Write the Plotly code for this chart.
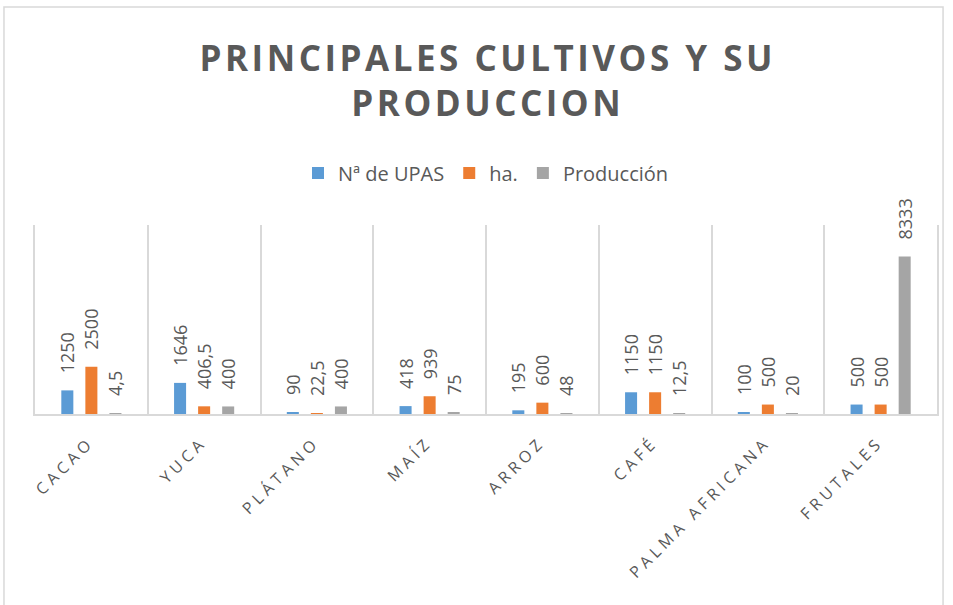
import plotly.graph_objects as go

categories = ["CACAO", "YUCA", "PLÁTANO", "MAÍZ", "ARROZ", "CAFÉ", "PALMA AFRICANA", "FRUTALES"]
upas = [1250, 1646, 90, 418, 195, 1150, 100, 500]
ha = [2500, 406.5, 22.5, 939, 600, 1150, 500, 500]
produccion = [4.5, 400, 400, 75, 48, 12.5, 20, 8333]
series_names = ["Nª de UPAS", "ha.", "Producción"]
colors = ["#5B9BD5", "#ED7D31", "#A5A5A5"]

TXT = "#595959"
FONT = "Open Sans"


def fmt(v):
    s = ("%g" % v).replace(".", ",")
    return "\u00a0\u00a0\u00a0" + s


def spaced(s, sep="\u2009"):
    return sep.join(list(s))


fig = go.Figure()
for name, vals, col in zip(series_names, [upas, ha, produccion], colors):
    fig.add_trace(go.Bar(
        x=categories, y=vals, name=name,
        marker=dict(color=col, line=dict(width=0)),
        text=[fmt(v) for v in vals],
        textposition="outside", textangle=-90,
        constraintext="none", cliponaxis=False,
        textfont=dict(family=FONT, size=18, color=TXT),
        hoverinfo="x+y+name",
    ))

fig.update_layout(
    width=953, height=605,
    margin=dict(l=35, r=16, t=225, b=191, autoexpand=False),
    paper_bgcolor="white", plot_bgcolor="white",
    barmode="group", bargap=0.36, bargroupgap=0.5,
    title=dict(
        text=spaced("PRINCIPALES CULTIVOS Y SU", "\u200a") + "<br>" + spaced("PRODUCCION", "\u200a"),
        x=0.5, xanchor="center", xref="paper",
        y=0.8828, yanchor="top", yref="container",
        font=dict(family=FONT, size=35, color=TXT, weight="bold"),
    ),
    legend=dict(
        orientation="h", x=0.5, xanchor="center", y=1.275, yanchor="middle",
        font=dict(family=FONT, size=20, color=TXT),
        itemwidth=30, traceorder="normal",
    ),
    xaxis=dict(
        type="category", tickson="boundaries", automargin=False,
        showgrid=True, gridcolor="#D9D9D9", gridwidth=1.5,
        showline=True, linecolor="#D9D9D9", linewidth=1.5,
        ticks="", tickangle=-45,
        tickmode="array", tickvals=categories,
        ticktext=[spaced(c, "\u2009\u200a") for c in categories],
        tickfont=dict(family=FONT, size=16, color=TXT),
        ticklabelstandoff=14, ticklabelshift=-5,
    ),
    yaxis=dict(
        range=[0, 10000], fixedrange=True, automargin=False,
        showgrid=False, zeroline=False, showticklabels=False, ticks="",
        showline=True, mirror=True, linecolor="#D9D9D9", linewidth=1.5,
    ),
    shapes=[dict(
        type="rect", xref="paper", yref="paper",
        x0=-0.0344, x1=1.0067, y0=-1.1, y1=2.153,
        line=dict(color="#D9D9D9", width=1.5), fillcolor="rgba(0,0,0,0)", layer="below",
    )],
    showlegend=True,
)

fig.write_html(
    "out.html",
    config={"displayModeBar": False},
    post_script="document.body.style.margin='0';",
)
